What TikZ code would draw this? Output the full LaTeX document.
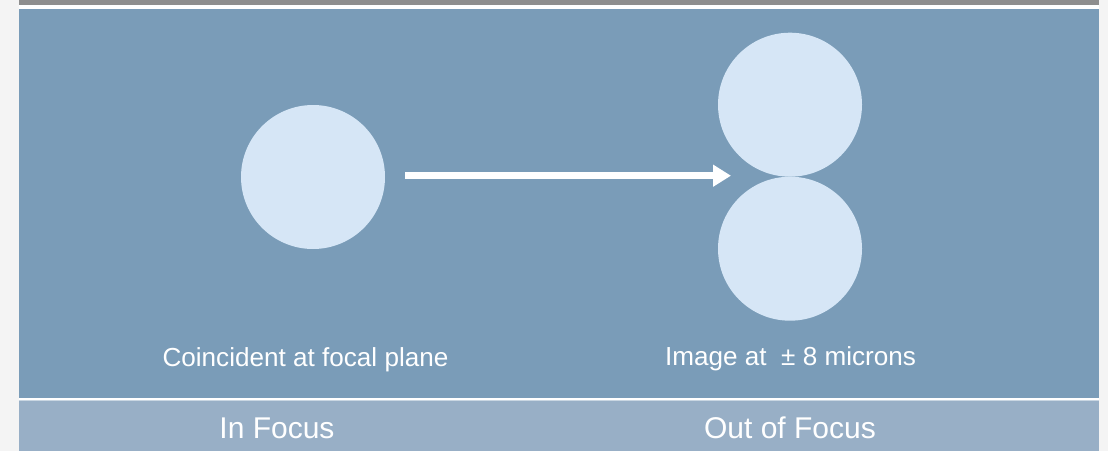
\documentclass[tikz,border=0pt]{standalone}
\usepackage{fontspec}
\setmainfont{Liberation Sans}
\usetikzlibrary{arrows.meta}
\definecolor{pagegray}{HTML}{F4F4F4}
\definecolor{topbar}{HTML}{8E8E8E}
\definecolor{panelblue}{HTML}{7A9CB8}
\definecolor{barblue}{HTML}{98AFC6}
\definecolor{barline}{HTML}{C9D6E2}
\definecolor{spotblue}{HTML}{D6E6F6}
\tikzset{
  spot/.style={circle, fill=spotblue, minimum size=144pt, inner sep=0pt, outer sep=0pt},
  caption/.style={text=white, font=\fontsize{26.1}{30}\selectfont, anchor=base, inner sep=0pt},
  barlabel/.style={text=white, font=\fontsize{30}{34}\selectfont, anchor=base, inner sep=0pt},
  shiftarrow/.style={draw=white, line width=6.5pt, -{Triangle[length=18pt, width=21pt]}}
}
\begin{document}
\begin{tikzpicture}[x=1pt,y=1pt]
\useasboundingbox (0,0) rectangle (1108,451);
\fill[pagegray] (0,0) rectangle (1108,451);
\fill[white] (19,0) rectangle (1099,451);
\fill[topbar] (19,446) rectangle (1099,451);
\fill[panelblue] (19,53.3) rectangle (1099,442);
\fill[barline] (19,49.7) rectangle (1099,51);
\fill[barblue] (19,0) rectangle (1099,49.7);
\node[spot] (infocus) at (313,274) {};
\node[spot] (outtop) at (790,346.3) {};
\node[spot] (outbot) at (790,202.3) {};
\coordinate (tip) at (731,275.3);
\draw[shiftarrow] ([xshift=20pt]infocus.east |- tip) -- (tip);
\node[caption] (cap1) at (305.5,85) {Coincident at focal plane};
\node[caption] (cap2) at (790.5,85.3) {Image at\ \ ± 8 microns};
\node[barlabel] (bar1) at (277,12.7) {In Focus};
\node[barlabel] (bar2) at (790,12.7) {Out of Focus};
\end{tikzpicture}
\end{document}
